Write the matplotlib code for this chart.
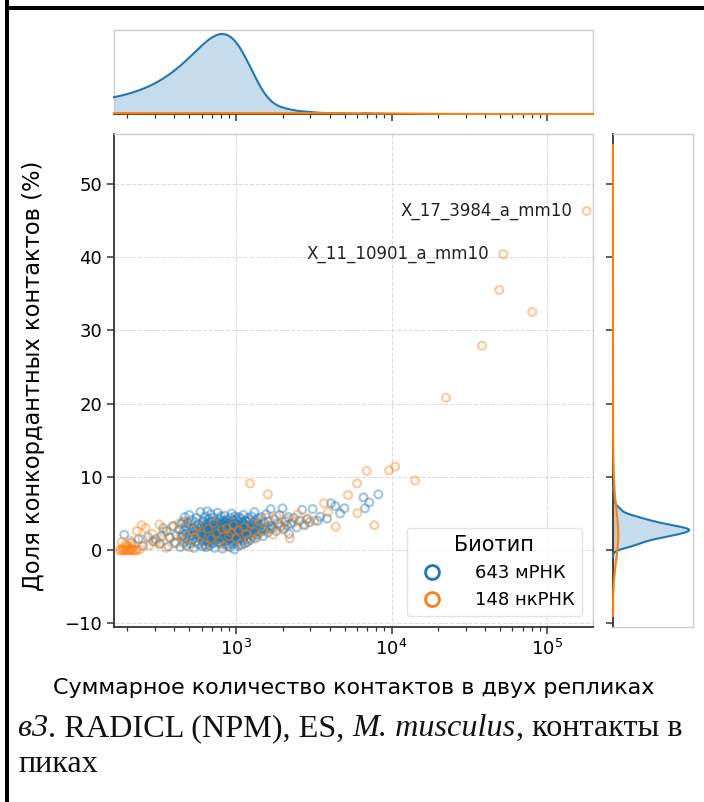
import numpy as np
import matplotlib
matplotlib.use("Agg")
import matplotlib.pyplot as plt
from matplotlib.lines import Line2D
from matplotlib.patches import Rectangle

# counts shown in the legend (the full data set)
N_MRNA = 643
N_NCRNA = 148

# mRNA points: total contacts in both replicates, concordant share (%)
mrna_x = [191, 212, 236, 252, 271, 292, 305, 322, 331, 340,
          358, 367, 376, 394, 403, 412, 430, 438, 445, 449,
          452, 456, 460, 464, 468, 472, 476, 480, 484, 488,
          492, 496, 500, 504, 508, 512, 516, 520, 524, 528,
          532, 536, 540, 544, 548, 552, 556, 560, 564, 568,
          572, 576, 580, 585, 590, 596,
          601, 603, 606, 608, 611, 613, 616, 618, 621, 623,
          626, 628, 631, 633, 636, 638, 641, 643, 646, 648,
          651, 653, 656, 658, 661, 663, 666, 668, 671, 673,
          676, 678, 681, 683, 686, 688, 691, 693, 696, 698,
          701, 703, 706, 708, 711, 713, 716, 718, 721, 723,
          726, 728, 731, 733, 736, 738, 741, 743, 746, 748,
          751, 753, 756, 758, 761, 763, 766, 768, 771, 773,
          776, 778, 781, 783, 786, 788, 791, 793, 796, 798,
          801, 803, 806, 808, 811, 813, 816, 818, 821, 823,
          826, 828, 831, 833, 836, 838, 841, 843, 846, 848,
          851, 853, 856, 858, 861, 863, 866, 868, 871, 873,
          876, 878, 881, 883, 886, 888, 891, 893, 896, 898,
          901, 904, 907, 910, 913, 916, 919, 922, 925, 928,
          931, 934, 937, 940, 943, 946, 949, 952, 955, 958,
          961, 964, 967, 970, 973, 976, 979, 982, 985, 988,
          991, 994, 997, 1000, 1003, 1006, 1009, 1012, 1015, 1018,
          1021, 1024, 1027, 1030, 1033, 1036, 1039, 1042, 1045, 1048,
          1049,
          1053, 1058, 1062, 1067, 1071, 1076, 1080, 1085, 1089, 1094,
          1098, 1103, 1107, 1112, 1116, 1121, 1125, 1130, 1134, 1139,
          1143, 1148, 1152, 1157, 1161, 1166, 1170, 1175, 1179, 1184,
          1188, 1193, 1197,
          1204, 1212, 1221, 1229, 1238, 1246, 1255, 1263, 1272, 1280,
          1289, 1297, 1306, 1314, 1323, 1331, 1340, 1348, 1357, 1365,
          1374, 1382, 1391, 1398,
          1410, 1432, 1453, 1475, 1496, 1518, 1539, 1561, 1582, 1604,
          1625, 1647, 1668, 1690,
          1720, 1765, 1810, 1855, 1900, 1945, 1990, 2035, 2080, 2125,
          2170, 2190,
          2260, 2360, 2460, 2560, 2660, 2760, 2860, 2960,
          3110, 3350, 3470, 3850,
          4080, 4350, 4670, 4980, 6600, 6750, 7200, 8220]
mrna_y = [2.1, 1.0, 1.5, 0.6, 1.8, 1.2, 1.5, 0.8, 1.9, 3.0,
          2.6, 0.5, 1.7, 3.3, 1.0, 2.0, 2.8, 0.4, 3.6, 1.8,
          2.1, 3.9, 1.0, 2.7, 4.5, 1.6, 3.2, 0.6, 2.3, 3.7,
          1.3, 2.9, 4.8, 1.9, 0.9, 3.4, 2.5, 4.1, 1.5, 2.0,
          3.0, 0.3, 2.6, 3.8, 1.1, 2.2, 4.4, 1.7, 3.1, 2.4,
          0.8, 3.5, 1.9, 2.8, 5.2, 1.4,
          2.1, 3.3, 0.5, 2.6, 4.0, 1.8, 3.0, 2.3, 1.2, 3.9,
          2.4, 0.7, 2.9, 4.6, 1.8, 3.2, 2.1, 0.4, 3.6, 2.6,
          1.4, 5.3, 2.9, 2.0, 3.4, 1.1, 2.5, 4.2, 1.7, 3.0,
          0.6, 2.2, 3.7, 2.7, 1.3, 4.9, 2.3, 3.3, 1.9, 2.8,
          0.9, 3.9, 2.4, 1.5, 3.1, 2.0, 4.4, 2.6, 1.0, 3.5,
          2.2, 0.3, 2.9, 1.7, 3.8, 2.5, 1.4, 3.2, 2.2, 2.8,
          2.7, 1.5, 3.2, 2.2, 5.1, 2.9, 1.9, 3.7, 2.5, 1.1,
          3.0, 2.3, 4.3, 2.8, 1.7, 3.4, 2.6, 0.9, 3.1, 2.2,
          4.6, 2.9, 1.9, 3.5, 2.5, 3.9, 2.0, 0.2, 2.7, 3.6,
          1.3, 2.4, 4.0, 2.8, 1.6, 3.3, 2.1, 4.7, 2.6, 1.2,
          3.1, 2.3, 0.8, 3.8, 2.5, 1.8, 3.0, 2.2, 4.1, 2.7,
          1.4, 3.5, 2.0, 2.9, 0.6, 3.3, 2.4, 1.6, 3.6, 2.1,
          2.4, 3.7, 1.5, 2.9, 0.4, 3.3, 2.2, 4.4, 2.6, 1.8,
          3.0, 2.3, 5.0, 2.7, 1.2, 3.5, 2.5, 0.8, 3.2, 2.0,
          4.1, 2.8, 1.6, 3.4, 2.4, 0.1, 3.0, 2.2, 4.6, 2.9,
          1.4, 3.6, 2.6, 1.9, 3.1, 2.3, 4.2, 2.8, 1.1, 3.3,
          2.5, 1.7, 3.9, 2.7, 0.6, 3.0, 2.1, 4.5, 2.6, 1.9,
          3.2,
          2.8, 1.6, 3.5, 2.4, 4.3, 2.0, 3.1, 0.7, 2.7, 3.8,
          2.2, 1.3, 3.3, 2.6, 4.8, 2.9, 1.8, 3.6, 2.4, 0.9,
          3.0, 2.5, 4.0, 2.1, 3.4, 1.5, 2.8, 3.9, 2.3, 1.1,
          3.2, 2.7, 4.4,
          3.0, 2.2, 4.1, 2.7, 1.4, 3.5, 2.5, 4.6, 3.1, 1.9,
          2.8, 3.8, 2.3, 5.2, 3.3, 1.6, 2.9, 4.0, 2.6, 3.6,
          2.1, 3.2, 4.3, 2.8,
          3.4, 2.5, 4.5, 3.0, 1.9, 3.7, 2.8, 4.9, 3.2, 2.4,
          3.9, 2.9, 5.6, 3.3,
          3.0, 4.2, 2.6, 3.6, 4.8, 3.2, 5.7, 2.9, 3.9, 3.4,
          4.5, 2.2,
          3.6, 4.4, 3.1, 4.0, 5.5, 3.4, 4.2, 3.8,
          5.6, 4.0, 4.55, 4.3,
          6.4, 6.0, 5.0, 5.7, 7.2, 5.7, 6.5, 7.6]

# ncRNA points
ncrna_x = [178, 182, 186, 190, 194, 198, 202, 206, 210, 215,
           220, 226, 188, 200, 212, 230, 240, 184, 196, 208,
           219, 250, 262, 275, 290, 305, 321, 323, 340, 355,
           372, 390, 410, 428, 440, 460, 480, 500, 520, 545,
           570, 600, 630, 660, 690, 720, 750, 780, 810, 840,
           870, 900, 930, 960, 1000, 1040, 1080, 1120, 1160, 1210,
           1260, 1310, 1370, 1430, 1500, 1570, 1650, 1730, 1820, 1910,
           2000, 2110, 2220, 2350, 2500, 2700, 2900, 3200, 3680, 3900,
           230, 247, 1230, 1600, 4370, 5250, 6000, 6030, 6920, 7760,
           9640, 10540, 14170, 22400, 38200, 49300, 52400, 80400, 179900]
ncrna_y = [0.0, 0.0, 0.0, 0.0, 0.0, 0.0, 0.0, 0.0, 0.0, 0.0,
           0.0, 0.0, 0.3, 0.5, 0.2, 0.0, 0.1, 1.1, 0.8, 1.3,
           0.7, 1.5, 3.0, 0.6, 2.2, 1.1, 3.5, 1.0, 2.5, 0.3,
           1.8, 3.2, 0.9, 3.6, 2.0, 1.4, 3.9, 0.4, 2.6, 1.7,
           3.3, 2.1, 0.8, 2.9, 1.5, 3.7, 2.3, 1.2, 2.8, 0.6,
           3.0, 1.9, 2.4, 3.4, 1.6, 2.7, 0.9, 3.1, 2.2, 1.4,
           3.6, 2.5, 1.8, 3.9, 2.6, 4.4, 3.0, 2.1, 4.6, 3.4,
           2.8, 4.2, 1.6, 3.8, 4.9, 3.5, 4.3, 4.0, 6.4, 5.2,
           2.6, 3.4, 9.1, 7.6, 3.2, 7.5, 9.1, 5.05, 10.8, 3.4,
           10.9, 11.4, 9.5, 20.8, 27.9, 35.5, 40.4, 32.5, 46.3]

labels = {"X_17_3984_a_mm10": (179900, 46.3), "X_11_10901_a_mm10": (52400, 40.4)}

BLUE = "#1f77b4"
ORANGE = "#ff7f0e"
DARK = "#333333"
LIGHT = "#cccccc"

plt.rcParams['font.family'] = ['DejaVu Sans']

W, H = 704, 802
fig = plt.figure(figsize=(W / 100, H / 100), dpi=100)


def px_box(l, t, r, b):
    return [l / W, (H - b) / H, (r - l) / W, (b - t) / H]


ax = fig.add_axes(px_box(114, 134, 593, 627))
ax_top = fig.add_axes(px_box(114, 30, 593, 114), sharex=ax)
ax_right = fig.add_axes(px_box(613, 134, 693, 627), sharey=ax)

XLIM = (164, 197700)
YLIM = (-10.5, 56.8)


def kde(values, n_true, weight, lims):
    # gaussian kde in linear space, scott bandwidth from the full count
    values = np.asarray(values, dtype=float)
    bw = np.std(values, ddof=1) * n_true ** (-0.2)
    lo = max(values.min() - 3 * bw, lims[0])
    hi = min(values.max() + 3 * bw, lims[1])
    grid = np.linspace(lo, hi, 6000)
    z = (grid[:, None] - values[None, :]) / bw
    dens = np.exp(-0.5 * z ** 2).sum(axis=1) / (len(values) * bw * np.sqrt(2 * np.pi))
    return grid, dens * weight


n_all = N_MRNA + N_NCRNA
groups = [(mrna_x, mrna_y, N_MRNA, BLUE), (ncrna_x, ncrna_y, N_NCRNA, ORANGE)]

top_max = 0
right_max = 0
for xs, ys, n, c in groups:
    ax.scatter(xs, ys, s=32, facecolors='none', edgecolors=c, linewidths=1.6, alpha=0.4, zorder=3)

    gx, dx = kde(xs, n, n / n_all, XLIM)
    ax_top.fill_between(gx, 0, dx, color=c, alpha=0.25, lw=0)
    ax_top.plot(gx, dx, color=c, lw=1.5, zorder=3, clip_on=False)
    top_max = max(top_max, dx.max())

    gy, dy = kde(ys, n, n / n_all, YLIM)
    ax_right.fill_betweenx(gy, 0, dy, color=c, alpha=0.25, lw=0)
    ax_right.plot(dy, gy, color=c, lw=1.5, zorder=3, clip_on=False)
    right_max = max(right_max, dy.max())

for name, (lx, ly) in labels.items():
    ax.annotate(name, (lx, ly), xytext=(-10, 0), textcoords='offset points',
                ha='right', va='center', fontsize=12, color='#222222')

ax.set_xscale('log')
ax.set_xlim(*XLIM)
ax.set_ylim(*YLIM)
ax.set_yticks([-10, 0, 10, 20, 30, 40, 50])
ax.grid(True, which='major', ls='--', color='#dddddd', lw=0.8)
ax.set_axisbelow(True)

ax_top.set_ylim(0, top_max * 1.05)
ax_right.set_xlim(0, right_max * 1.05)

for a in (ax, ax_top, ax_right):
    for s in a.spines.values():
        s.set_color(LIGHT)
        s.set_linewidth(1.0)
    a.tick_params(which='major', length=5, width=1.1, color=DARK, labelsize=13)
    a.tick_params(which='minor', length=3, width=0.9, color=DARK)

for s in ('left', 'bottom'):
    ax.spines[s].set_color(DARK)
    ax.spines[s].set_linewidth(1.3)
ax_top.spines['bottom'].set_color(DARK)
ax_top.spines['bottom'].set_linewidth(1.3)
ax_right.spines['left'].set_color(DARK)
ax_right.spines['left'].set_linewidth(1.3)

ax_top.tick_params(axis='x', labelbottom=False)
ax_top.tick_params(axis='y', left=False, labelleft=False)
ax_right.tick_params(axis='y', labelleft=False)
ax_right.tick_params(axis='x', bottom=False, labelbottom=False)

ax.set_xlabel("Суммарное количество контактов в двух репликах", fontsize=16)
ax.set_ylabel("Доля конкордантных контактов (%)", fontsize=16.3)
ax.xaxis.set_label_coords(0.5, -0.103)
ax.yaxis.set_label_coords(-0.144, 0.51)

handles = [Line2D([], [], ls='none', marker='o', ms=10, mfc='none', mec=BLUE, mew=2),
           Line2D([], [], ls='none', marker='o', ms=10, mfc='none', mec=ORANGE, mew=2)]
leg = ax.legend(handles, [f"{N_MRNA} мРНК", f"{N_NCRNA} нкРНК"], title="Биотип",
                loc='lower right', fontsize=13, title_fontsize=15, handletextpad=1.4,
                borderaxespad=0.6, framealpha=0.8, edgecolor='#dddddd')

# page frame lines around the figure
fig.add_artist(Rectangle((5 / W, 0), 4 / W, 1, transform=fig.transFigure, color='black', lw=0))
fig.add_artist(Rectangle((5 / W, (H - 10) / H), 1 - 5 / W, 4 / H, transform=fig.transFigure,
                         color='black', lw=0))

# caption with italic pieces
caption = [[("в3", 'italic'), (". RADICL (NPM), ES, ", 'normal'), ("M. musculus", 'italic'),
            (", контакты в", 'normal')],
           [("пиках", 'normal')]]
baselines = [736, 772]
fig.canvas.draw()
renderer = fig.canvas.get_renderer()
for line, base in zip(caption, baselines):
    x_px = 18
    for txt, style in line:
        t = fig.text(x_px / W, (H - base) / H, txt, family='Liberation Serif', style=style,
                     fontsize=23.2, va='baseline', ha='left', color='#111111')
        x_px = t.get_window_extent(renderer).x1

fig.savefig("out.png", dpi=100)
